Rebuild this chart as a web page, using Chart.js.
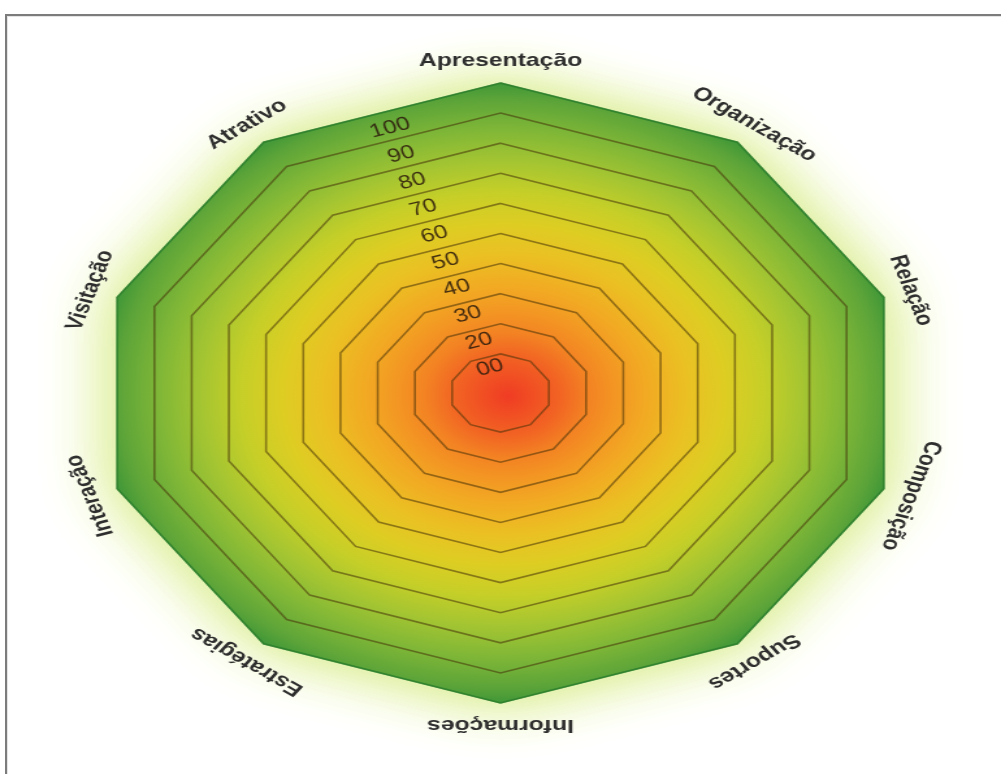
<!DOCTYPE html>
<html>
<head>
<meta charset="utf-8">
<script src="https://cdn.jsdelivr.net/npm/chart.js@4.4.1/dist/chart.umd.min.js"></script>
<style>
html,body{margin:0;padding:0;background:#fff;overflow:hidden}
#frame{position:absolute;left:5px;top:14px;width:1000px;height:770px;border-left:2px solid #7c7c7c;border-top:2px solid #7c7c7c;box-shadow:inset 1px 1px 0 #e4e4e4}
#wrap{position:absolute;left:0;top:0;width:770px;height:774px;transform:scaleX(1.3);transform-origin:0 0}
</style>
</head>
<body>
<div id="frame"></div>
<div id="wrap"><canvas id="radar" width="770" height="774"></canvas></div>
<script>
const categories = ['Apresentação','Organização','Relação','Composição','Suportes','Informações','Estratégias','Interação','Visitação','Atrativo'];
const scores = [100,100,100,100,100,100,100,100,100,100];
const tickValues = [10,20,30,40,50,60,70,80,90,100];
const tickLabels = ['00','20','30','40','50','60','70','80','90','100'];

const tickAngle = -0.31;

function heatFill(context){
  const chart = context.chart;
  const r = chart.scales.r;
  if(!r || !r.drawingArea) return '#8cbe3c';
  const g = chart.ctx.createRadialGradient(r.xCenter+6, r.yCenter+3, 0, r.xCenter, r.yCenter, r.drawingArea);
  g.addColorStop(0.00,'rgb(240,60,36)');
  g.addColorStop(0.13,'rgb(242,100,35)');
  g.addColorStop(0.20,'rgb(243,130,35)');
  g.addColorStop(0.27,'rgb(243,150,35)');
  g.addColorStop(0.35,'rgb(242,170,35)');
  g.addColorStop(0.45,'rgb(235,192,35)');
  g.addColorStop(0.55,'rgb(222,205,35)');
  g.addColorStop(0.65,'rgb(198,207,40)');
  g.addColorStop(0.75,'rgb(164,197,50)');
  g.addColorStop(0.85,'rgb(128,183,55)');
  g.addColorStop(0.95,'rgb(92,164,57)');
  g.addColorStop(1.00,'rgb(64,151,56)');
  return g;
}

// soft light halo around the polygon
const glow = {
  id:'glow',
  beforeDatasetsDraw(chart){
    const r = chart.scales.r, ctx = chart.ctx;
    ctx.save();
    ctx.beginPath();
    scores.forEach((v,i)=>{
      const p = r.getPointPosition(i, r.getDistanceFromCenterForValue(v));
      i ? ctx.lineTo(p.x,p.y) : ctx.moveTo(p.x,p.y);
    });
    ctx.closePath();
    ctx.shadowColor = 'rgba(220,238,150,1)';
    ctx.shadowBlur = 55;
    ctx.fillStyle = 'rgb(70,155,55)';
    ctx.fill();
    ctx.fill();
    ctx.restore();
  }
};

// rotated axis names and ring values
const labels = {
  id:'labels',
  afterDraw(chart){
    const r = chart.scales.r, ctx = chart.ctx;
    ctx.save();
    ctx.textAlign = 'center';
    ctx.textBaseline = 'middle';
    ctx.font = 'bold 19px "Liberation Sans", Arial, sans-serif';
    ctx.fillStyle = '#2e2e2e';
    categories.forEach((c,i)=>{
      const p = r.getPointPosition(i, r.drawingArea + 22);
      ctx.save();
      ctx.translate(p.x,p.y);
      ctx.rotate(r.getIndexAngle(i));
      ctx.fillText(c,0,0);
      ctx.restore();
    });
    ctx.font = '19px "Liberation Sans", Arial, sans-serif';
    ctx.fillStyle = 'rgba(45,28,12,0.88)';
    tickValues.forEach((v,k)=>{
      const d = r.getDistanceFromCenterForValue(v)*0.93 - 10;
      const p = r.getPointPosition(0, d, tickAngle);
      ctx.save();
      ctx.translate(p.x,p.y);
      ctx.rotate(tickAngle);
      ctx.fillText(tickLabels[k],0,0);
      ctx.restore();
    });
    ctx.restore();
  }
};

new Chart(document.getElementById('radar').getContext('2d'), {
  type:'radar',
  data:{ labels:categories, datasets:[{
    label:'Avaliação',
    data:scores,
    fill:'start',
    backgroundColor:heatFill,
    borderColor:'rgba(50,135,48,0.85)',
    borderWidth:1.5,
    pointRadius:0
  }]},
  options:{
    responsive:false,
    animation:false,
    layout:{ padding:{top:83,bottom:71,left:75,right:75} },
    plugins:{ legend:{display:false}, tooltip:{enabled:false} },
    scales:{ r:{
      min:-3, max:100,
      afterBuildTicks:(scale)=>{ scale.ticks = tickValues.map(v=>({value:v})); },
      ticks:{ display:false },
      angleLines:{ display:false },
      pointLabels:{ display:false },
      grid:{
        z:1,
        circular:false,
        lineWidth:1.6,
        color:(c)=> c.tick && c.tick.value===100 ? 'rgba(45,125,45,0.6)' : 'rgba(70,50,10,0.55)'
      }
    }}
  },
  plugins:[glow, labels]
});
</script>
</body>
</html>
